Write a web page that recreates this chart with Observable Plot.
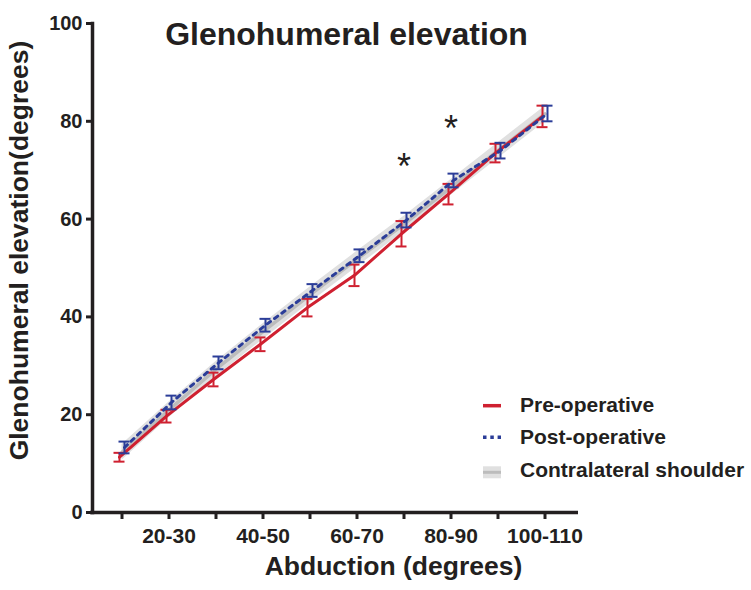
<!DOCTYPE html>
<html>
<head>
<meta charset="utf-8">
<script src="https://cdn.jsdelivr.net/npm/d3@7"></script>
<script src="https://cdn.jsdelivr.net/npm/@observablehq/plot@0.6"></script>
<style>
  html, body { margin: 0; padding: 0; background: #fff; }
  #chart svg { font-family: "Liberation Sans", Arial, sans-serif; }
  #chart [aria-label="y-axis tick"], #chart [aria-label="x-axis tick"] { stroke-width: 3; }
</style>
</head>
<body>
<div id="chart"></div>
<script>
// ---- data ----
const categories = ["10-20","20-30","30-40","40-50","50-60","60-70","70-80","80-90","90-100","100-110"];
const xTickLabels = ["20-30","40-50","60-70","80-90","100-110"];
const yTicks = [0, 20, 40, 60, 80, 100];

const preMean  = [11.3, 19.7, 27.2, 34.4, 41.9, 48.5, 57.0, 65.1, 73.5, 81.0];
const preErr   = [0.9, 1.3, 1.4, 1.4, 1.8, 2.2, 2.6, 2.1, 1.9, 2.2];
const postMean = [13.3, 22.5, 30.6, 38.3, 45.4, 52.5, 59.8, 67.9, 74.0, 81.6];
const postErr  = [1.2, 1.4, 1.3, 1.3, 1.3, 1.3, 1.5, 1.4, 1.6, 1.6];
const contraMean = [12.3, 21.0, 29.3, 37.0, 44.5, 51.8, 59.0, 66.5, 74.0, 81.5];
const contraErr  = [1.6, 1.6, 1.6, 1.6, 1.6, 1.6, 1.6, 1.6, 1.6, 1.6];

const starCategories = ["70-80", "80-90"];
const starValues = [70.5, 78.3];

const seriesNames = ["Pre-operative", "Post-operative", "Contralateral shoulder"];
const titleText = "Glenohumeral elevation";
const xLabelText = "Abduction (degrees)";
const yLabelText = "Glenohumeral elevation(degrees)";

// ---- tables built from the arrays ----
const pre = categories.map((c, i) => ({cat: c, v: preMean[i], e: preErr[i]}));
const post = categories.map((c, i) => ({cat: c, v: postMean[i], e: postErr[i]}));
const contra = categories.map((c, i) => ({cat: c, v: contraMean[i], e: contraErr[i]}));
const stars = starCategories.map((c, i) => ({cat: c, v: starValues[i]}));

const RED = "#cf2030", BLUE = "#2b3d98", BAND = "#e0e0e0", GREYLINE = "#bcbcbc", INK = "#231f20";
const FONT = "Liberation Sans, Arial, sans-serif";

const chart = Plot.plot({
  width: 751,
  height: 590,
  marginTop: 23,
  marginBottom: 78,
  marginLeft: 92,
  marginRight: 173,
  style: {fontFamily: FONT, color: INK, background: "#fff"},
  x: {type: "band", domain: categories, range: [93.8, 572.2], padding: 0},
  y: {domain: [0, 100]},
  marks: [
    // contralateral band + mean line
    Plot.areaY(contra, {x: "cat", y1: d => d.v - d.e, y2: d => d.v + d.e, fill: BAND}),
    Plot.line(contra, {x: "cat", y: "v", stroke: GREYLINE, strokeWidth: 3.5}),
    // pre-operative
    Plot.line(pre, {x: "cat", y: "v", stroke: RED, strokeWidth: 3, dx: -2.5}),
    Plot.ruleX(pre, {x: "cat", y1: d => d.v - d.e, y2: d => d.v + d.e, stroke: RED, strokeWidth: 2, dx: -2.5}),
    Plot.tickY(pre, {x: "cat", y: d => d.v - d.e, stroke: RED, strokeWidth: 2, insetLeft: 18, insetRight: 18, dx: -2.5}),
    Plot.tickY(pre, {x: "cat", y: d => d.v + d.e, stroke: RED, strokeWidth: 2, insetLeft: 18, insetRight: 18, dx: -2.5}),
    // post-operative
    Plot.line(post, {x: "cat", y: "v", stroke: BLUE, strokeWidth: 3, strokeDasharray: "4,5", dx: 2.5}),
    Plot.ruleX(post, {x: "cat", y1: d => d.v - d.e, y2: d => d.v + d.e, stroke: BLUE, strokeWidth: 2, dx: 2.5}),
    Plot.tickY(post, {x: "cat", y: d => d.v - d.e, stroke: BLUE, strokeWidth: 2, insetLeft: 18, insetRight: 18, dx: 2.5}),
    Plot.tickY(post, {x: "cat", y: d => d.v + d.e, stroke: BLUE, strokeWidth: 2, insetLeft: 18, insetRight: 18, dx: 2.5}),
    // significance markers
    Plot.text(stars, {x: "cat", y: "v", text: () => "*", fontSize: 36, fill: INK}),
    // axes
    Plot.axisY({ticks: yTicks, tickSize: 6, tickPadding: 4, fontSize: 20, fontWeight: "bold", label: null, stroke: INK, fill: INK}),
    Plot.axisX({ticks: categories, tickSize: 7, tickPadding: 9, fontSize: 21, fontWeight: "bold", label: null, stroke: INK, fill: INK,
      tickFormat: d => xTickLabels.includes(d) ? d : ""}),
    Plot.frame({anchor: "left", stroke: INK, strokeWidth: 3.5}),
    Plot.ruleY([0], {stroke: INK, strokeWidth: 3.5, insetLeft: -2}),
    // titles
    Plot.text([titleText], {frameAnchor: "top", textAnchor: "middle", dx: 11, dy: -1.2, fontSize: 32, fontWeight: "bold", fill: INK}),
    Plot.text([xLabelText], {frameAnchor: "bottom", textAnchor: "middle", dx: 58, dy: 62.5, fontSize: 26.5, fontWeight: "bold", fill: INK}),
    Plot.text([yLabelText], {frameAnchor: "left", textAnchor: "middle", rotate: -90, dx: -73, dy: -17.5, fontSize: 26.5, fontWeight: "bold", fill: INK})
  ]
});

document.getElementById("chart").appendChild(chart);

// ---- legend ----
const svg = d3.select(chart);
const lg = svg.append("g").attr("class", "legend").attr("text-anchor", "start");
const rows = [
  {name: seriesNames[0], sy: 405.7, ty: 411.5},
  {name: seriesNames[1], sy: 437.3, ty: 443.8},
  {name: seriesNames[2], sy: 472.3, ty: 476.5}
];
// pre
lg.append("line").attr("x1", 483).attr("x2", 501).attr("y1", rows[0].sy).attr("y2", rows[0].sy)
  .attr("stroke", RED).attr("stroke-width", 3.5);
// post
lg.append("line").attr("x1", 483).attr("x2", 501).attr("y1", rows[1].sy).attr("y2", rows[1].sy)
  .attr("stroke", BLUE).attr("stroke-width", 3.5).attr("stroke-dasharray", "3.5,3.8");
// contralateral
lg.append("rect").attr("x", 483).attr("y", rows[2].sy - 6).attr("width", 18).attr("height", 12).attr("fill", BAND);
lg.append("line").attr("x1", 483).attr("x2", 501).attr("y1", rows[2].sy).attr("y2", rows[2].sy)
  .attr("stroke", GREYLINE).attr("stroke-width", 3);
rows.forEach(r => {
  lg.append("text").attr("x", 520).attr("y", r.ty).text(r.name)
    .attr("text-anchor", "start")
    .attr("font-family", FONT).attr("font-size", 21).attr("font-weight", "bold").attr("fill", INK);
});
</script>
</body>
</html>
